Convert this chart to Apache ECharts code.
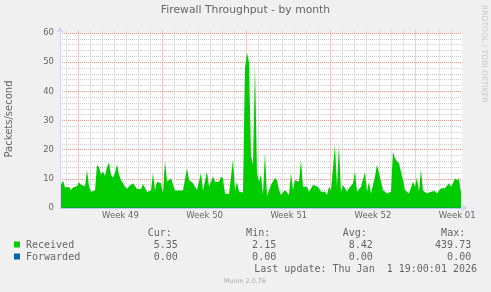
<!DOCTYPE html>
<html><head><meta charset="utf-8">
<script src="https://cdn.jsdelivr.net/npm/echarts@6/dist/echarts.min.js"></script>
<style>html,body{margin:0;padding:0;background:#F0F0F0}#c{width:491px;height:292px}</style>
</head><body><div id="c"></div>
<script>
// ---- chart data ----
const chartTitle = 'Firewall Throughput - by month';
const yAxisName = 'Packets/second';
const weekLabels = ['Week 49', 'Week 50', 'Week 51', 'Week 52', 'Week 01'];
const weekStartHours = [0, 168, 336, 504, 672];   // hours relative to Mon 1 Dec 00:00
const axisMinHour = -36.5;
const axisMaxHour = 765.6;
const sampleStartHour = -34.5;                  // first sample time
const sampleStepHours = 3.99;                   // spacing between samples
const received = [
  8,9.4,7,6.5,7.2,6.2,7,6.5,7.5,8.8,
  8,8.5,7.5,13,7.5,5.6,5.5,6,14.8,14,
  11.5,12.5,11,14,15.6,11.3,10.5,12,15,11.5,
  9.6,9,7.3,6.5,7.5,7,8.5,8,6.5,7,
  6.5,8.2,8.5,5.5,5.8,6,12,6,9,8.8,
  8.5,5,16.3,9,8.5,10.2,9.6,6,5.6,6,
  5.5,6,5.6,13.6,9.6,9,8.5,7.3,6.2,6,
  12,6,6.5,12.5,7.3,7,10.8,9,8.5,9,
  10.8,10,5,4.6,4.8,4.6,16.6,6,9,5.7,
  5.2,5.3,48,53.3,50,18,14.9,49,12,9,
  11.5,4.6,19,4,4.2,8,8.2,10.3,9.5,6.3,
  4.5,5,6.2,6,4.5,12,6.2,9.6,9.4,9,
  16.5,7.3,7,7.3,5.6,5.6,7.9,8,7.5,6.8,
  5.6,5.8,5.6,4.5,7.3,6,6,21.6,7.3,21.6,
  5.6,7.9,7.9,5.6,6.8,6.8,8.5,12.5,5.6,5.6,
  7.3,7.5,12.3,5.6,9,5,5,10.8,14.8,12,
  12.5,6.2,6.2,5,5.6,5.6,19.4,17,17,15.3,
  15,9.6,6.2,5.8,5,5.2,9,7.3,10.5,5.6,
  13.2,6,5.5,5,5.2,5.6,5.6,5.8,5,4.5,
  6.8,6.5,6.8,7.3,8.5,7.3,8.5,10.2,9.5,10.2,
  5.35
];
// Forwarded reads 0.00 everywhere (Cur/Min/Avg/Max all 0.00)
const forwarded = received.map(() => 0);
const seriesNames = ['Received', 'Forwarded'];
const statHeaders = ['Cur:', 'Min:', 'Avg:', 'Max:'];
const receivedStats = ['5.35', '2.15', '8.42', '439.73'];
const forwardedStats = ['0.00', '0.00', '0.00', '0.00'];
const lastUpdate = 'Last update: Thu Jan  1 19:00:01 2026';
const watermark = 'RRDTOOL / TOBI OETIKER';
const version = 'Munin 2.0.76';

// ---- build ----
const colors = ['#00CC00', '#0066B3'];
const HOURS_PER_DAY = 24, HOURS_PER_WEEK = 168;
const weekCenters = weekStartHours.map(h => h + HOURS_PER_WEEK / 2);
const dayLines = [];
for (let h = Math.ceil(axisMinHour / HOURS_PER_DAY) * HOURS_PER_DAY; h <= axisMaxHour; h += HOURS_PER_DAY) {
  if (h % HOURS_PER_WEEK !== 0) dayLines.push(h);
}
const toPairs = arr => arr.map((v, i) => [sampleStartHour + i * sampleStepHours, v]);

const SANS = '"DejaVu Sans", sans-serif';
const MONO = '"DejaVu Sans Mono", monospace';
const FONT = '#666666';
const AXIS = '#CFD6F8';
const MGRID = '#EB9A9A';
const GRID = '#CACACA';

function vLineSeries(values, color, z) {
  return {
    type: 'custom', xAxisIndex: 0, yAxisIndex: 0, z: z, silent: true, clip: false,
    data: values.map(v => [v]),
    encode: { x: 0 },
    renderItem: (params, api) => {
      const cs = params.coordSys;
      const x = Math.floor(api.coord([api.value(0), 0])[0]) + 0.5;
      return { type: 'line', shape: { x1: x, y1: cs.y - 2.5, x2: x, y2: cs.y + cs.height }, style: { stroke: color, lineWidth: 1, lineDash: [1, 1] } };
    }
  };
}

const statRight = [177.8, 276.2, 372.8, 471.2];
const headerRight = statRight.map(r => r - 6);
const graphic = [
  { type: 'text', x: 245.5, y: 10, style: { text: chartTitle, font: '10.8px ' + SANS, fill: FONT, textAlign: 'center', textVerticalAlign: 'middle' } },
  { type: 'text', x: 9, y: 119, rotation: Math.PI / 2, style: { text: yAxisName, font: '10px ' + SANS, fill: FONT, textAlign: 'center', textVerticalAlign: 'middle' } },
  { type: 'text', x: 484, y: 5, rotation: -Math.PI / 2, style: { text: watermark, font: '7.6px ' + SANS, fill: '#C8C8C8', textAlign: 'left', textVerticalAlign: 'middle' } },
  { type: 'text', x: 245, y: 281, style: { text: version, font: '6.4px ' + SANS, fill: '#AAAAAA', textAlign: 'center', textVerticalAlign: 'middle' } },
  { type: 'text', x: 477, y: 269, style: { text: lastUpdate, font: '10px ' + MONO, fill: FONT, textAlign: 'right', textVerticalAlign: 'middle' } }
];
statHeaders.forEach((h, k) => graphic.push({ type: 'text', x: headerRight[k], y: 233, style: { text: h, font: '10px ' + MONO, fill: FONT, textAlign: 'right', textVerticalAlign: 'middle' } }));
[receivedStats, forwardedStats].forEach((row, r) => {
  const y = 245 + r * 12;
  graphic.push({ type: 'rect', shape: { x: 14, y: y - 3.5, width: 6, height: 6 }, style: { fill: colors[r] } });
  graphic.push({ type: 'text', x: 26, y: y, style: { text: seriesNames[r], font: '10px ' + MONO, fill: FONT, textAlign: 'left', textVerticalAlign: 'middle' } });
  row.forEach((v, k) => graphic.push({ type: 'text', x: statRight[k], y: y, style: { text: v, font: '10px ' + MONO, fill: FONT, textAlign: 'right', textVerticalAlign: 'middle' } }));
});

const chart = echarts.init(document.getElementById('c'), null, { renderer: 'canvas' });
chart.setOption({
  backgroundColor: '#F0F0F0',
  animation: false,
  grid: { left: 60, top: 33, right: 29, bottom: 84, show: true, backgroundColor: '#FFFFFF', borderWidth: 0 },
  xAxis: {
    type: 'value', min: axisMinHour, max: axisMaxHour,
    axisLine: { show: true, onZero: false, lineStyle: { color: AXIS, width: 1 }, symbol: ['none', 'triangle'], symbolSize: [7, 5], symbolOffset: [0, 3] },
    axisTick: { show: false },
    axisLabel: { customValues: weekCenters, formatter: v => weekLabels[weekCenters.indexOf(v)] || '', color: FONT, fontFamily: SANS, fontSize: 8.5, margin: 3 },
    splitLine: { show: false }
  },
  yAxis: {
    type: 'value', min: 0, max: 60, interval: 10,
    axisLine: { show: true, onZero: false, lineStyle: { color: AXIS, width: 1 }, symbol: ['none', 'triangle'], symbolSize: [7, 5], symbolOffset: [0, 3.5] },
    axisTick: { show: false },
    axisLabel: { color: FONT, fontFamily: SANS, fontSize: 8.5, margin: 6 },
    splitLine: { show: true, lineStyle: { color: MGRID, type: [1, 1], width: 1 } },
    minorTick: { show: false, splitNumber: 5 },
    minorSplitLine: { show: true, lineStyle: { color: GRID, type: [1, 1], width: 1 } }
  },
  series: [
    vLineSeries(dayLines, GRID, 0),
    vLineSeries(weekStartHours, MGRID, 1),
    {
      name: seriesNames[0], type: 'line', data: toPairs(received),
      symbol: 'none', lineStyle: { width: 0, color: colors[0] }, areaStyle: { color: colors[0], opacity: 1 },
      itemStyle: { color: colors[0] }, z: 3
    },
    {
      name: seriesNames[1], type: 'line', data: toPairs(forwarded),
      symbol: 'none', lineStyle: { width: 1, color: colors[1], opacity: 0.5 }, itemStyle: { color: colors[1] }, z: 4
    }
  ],
  graphic: graphic
});
</script></body></html>
